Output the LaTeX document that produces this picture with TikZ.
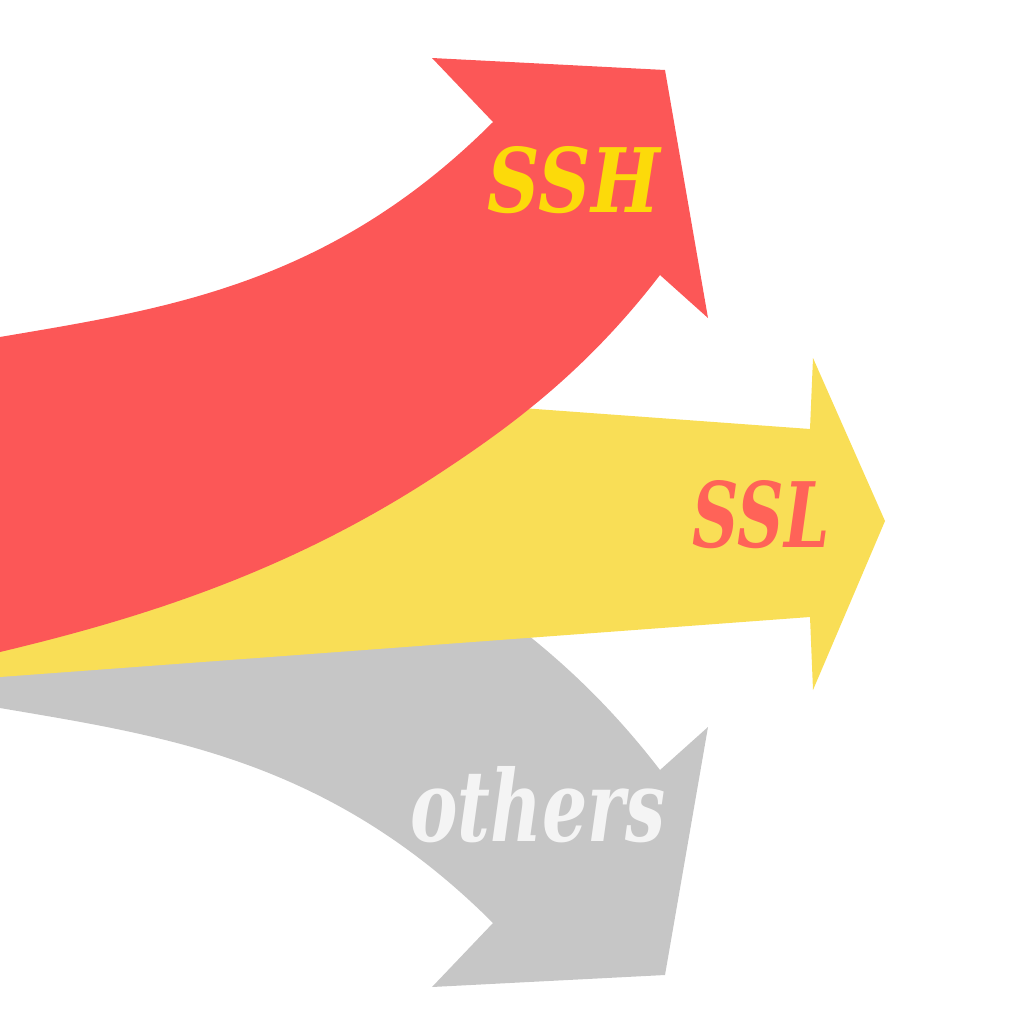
\documentclass[tikz,border=0pt]{standalone}
\usepackage{graphicx}
\usepackage{fontspec}
\newfontfamily\lblfont{DejaVu Serif}
\usepackage{tikz}
\definecolor{arrred}{RGB}{252,87,87}
\definecolor{arryellow}{RGB}{249,222,86}
\definecolor{arrgray}{RGB}{198,198,198}
\definecolor{txtyellow}{RGB}{252,218,10}
\definecolor{txtred}{RGB}{255,99,88}
\definecolor{txtwhite}{RGB}{244,244,244}
\tikzset{
  lbl/.style={inner sep=0pt, font=\lblfont\bfseries\itshape},
}
\begin{document}
\begin{tikzpicture}[x=0.01cm,y=-0.01cm]
\useasboundingbox (0,0) rectangle (1024,1024);
% gray arrow (mirror of red about y = 522.5)
\fill[arrgray] (0,708) .. controls (164,736) and (329,759) .. (493,923)
  -- (432,987) -- (665,975) -- (708,727) -- (660,770)
  .. controls (587,675) and (513,620) .. (440,572)
  .. controls (293,475) and (147,428) .. (0,393) -- cycle;
% yellow arrow
\fill[arryellow] (0,370) -- (810,429) -- (813,358) -- (885,521) -- (813,690) -- (810,617) -- (0,677) -- cycle;
% red arrow
\fill[arrred] (0,337) .. controls (164,309) and (329,286) .. (493,122)
  -- (432,58) -- (665,70) -- (708,318) -- (660,275)
  .. controls (587,370) and (513,425) .. (440,473)
  .. controls (293,570) and (147,617) .. (0,652) -- cycle;
% labels
\node[lbl, text=txtyellow] (ssh) at (574,180) {\resizebox{1.72cm}{0.66cm}{SSH}};
\node[lbl, text=txtred] (ssl) at (761,515) {\resizebox{1.37cm}{0.67cm}{SSL}};
\node[lbl, text=txtwhite] (others) at (538,805) {\resizebox{2.55cm}{0.75cm}{others}};
\end{tikzpicture}
\end{document}
